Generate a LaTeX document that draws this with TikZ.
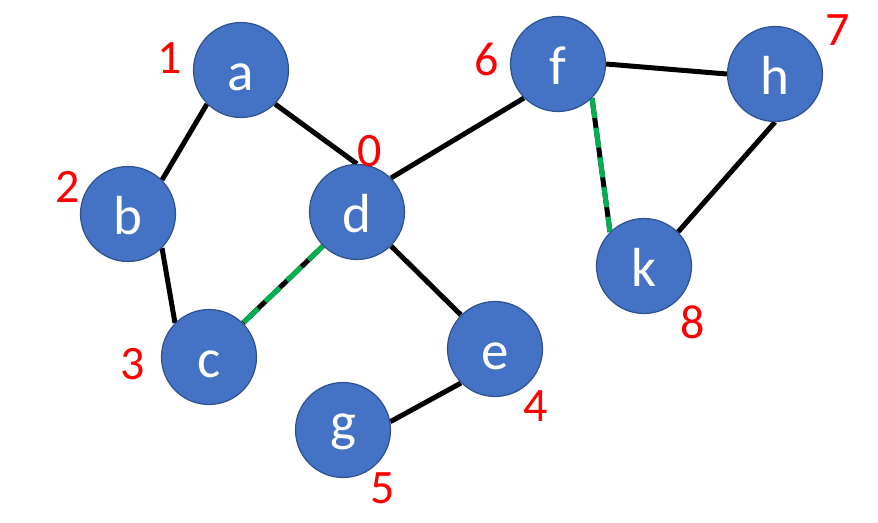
\documentclass[tikz,border=0pt]{standalone}
\usepackage{fontspec}
\setmainfont{Carlito}
\usetikzlibrary{backgrounds}
\definecolor{nodefill}{HTML}{4472C4}
\definecolor{nodeedge}{HTML}{2F528F}
\definecolor{grn}{HTML}{00B050}
\tikzset{
  vtx/.style={circle, fill=nodefill, draw=nodeedge, line width=1.2pt, minimum size=95pt, inner sep=0pt},
  vlabel/.style={text=white, font=\fontsize{55}{55}\selectfont, anchor=base, inner sep=0pt},
  num/.style={text=red, font=\fontsize{48}{48}\selectfont, anchor=base, inner sep=0pt},
  edge/.style={line width=5pt, black},
  greendash/.style={line width=5pt, grn, dash pattern=on 20pt off 10pt},
}
\begin{document}
\begin{tikzpicture}[x=1pt, y=-1pt]
\useasboundingbox (0,0) rectangle (878,522);
% vertices
\node[vtx] (a) at (241,70) {};
\node[vtx] (b) at (128,214) {};
\node[vtx] (c) at (209,357) {};
\node[vtx] (d) at (357,212) {};
\node[vtx] (e) at (495,349) {};
\node[vtx] (g) at (343,430) {};
\node[vtx] (f) at (558,64) {};
\node[vtx] (h) at (775,74) {};
\node[vtx] (k) at (644,266) {};
% vertex letters
\node[vlabel] (ta) at (241,90) {a};
\node[vlabel] (tb) at (128,234) {b};
\node[vlabel] (tc) at (209,377) {c};
\node[vlabel] (td) at (357,232) {d};
\node[vlabel] (te) at (495,369) {e};
\node[vlabel] (tg) at (343,440) {g};
\node[vlabel] (tf) at (558,84) {f};
\node[vlabel] (th) at (775,94) {h};
\node[vlabel] (tk) at (644,286) {k};
% numbers
\node[num] (n0) at (370,166) {0};
\node[num] (n1) at (170,73) {1};
\node[num] (n2) at (68,202) {2};
\node[num] (n3) at (133,379) {3};
\node[num] (n4) at (536,421) {4};
\node[num] (n5) at (383,503) {5};
\node[num] (n6) at (487,75) {6};
\node[num] (n7) at (838,45) {7};
\node[num] (n8) at (693,338) {8};
% edges
\begin{scope}[on background layer]
\draw[edge] (a.south west) -- (b.north east);
\draw[edge] (a.south east) -- (d.north);
\draw[edge] (b.south east) -- (c.north west);
\draw[edge] (d.north east) -- (f.south west);
\draw[edge] (d.south east) -- (e.north west);
\draw[edge] (e.south west) -- (g.10);
\draw[edge] (f.east) -- (h.west);
\draw[edge] (h.south) -- (k.north east);
\draw[edge] (d.south west) -- (c.north east);
\draw[greendash] (d.south west) -- (c.north east);
\draw[edge] (f.south east) -- (k.north west);
\draw[greendash] (f.south east) -- (k.north west);
\end{scope}
\end{tikzpicture}
\end{document}
